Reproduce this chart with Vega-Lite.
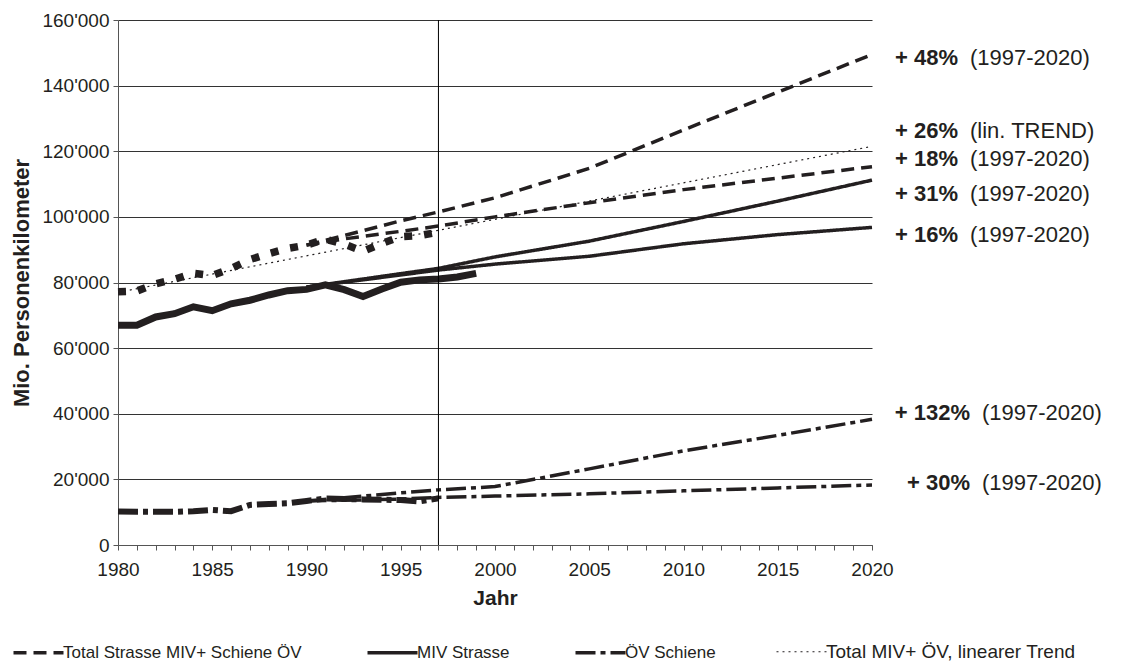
{
  "$schema": "https://vega.github.io/schema/vega-lite/v6.json",
  "width": 754,
  "height": 525,
  "autosize": {"type": "none"},
  "padding": {"left": 118, "top": 20, "right": 265, "bottom": 119},
  "background": "white",
  "config": {
    "view": {"stroke": null},
    "font": "Liberation Sans",
    "locale": {"number": {"decimal": ".", "thousands": "'", "grouping": [3], "currency": ["", ""]}},
    "axis": {"domainColor": "#555", "tickColor": "#555", "labelColor": "#231f20", "titleColor": "#231f20", "labelFont": "Liberation Sans", "titleFont": "Liberation Sans"}
  },
  "datasets": {
    "model": [
      {"year": 1990, "value": 91400, "series": "T_hi", "type": "Total Strasse MIV+ Schiene ÖV"},
      {"year": 1992, "value": 94300, "series": "T_hi", "type": "Total Strasse MIV+ Schiene ÖV"},
      {"year": 1995, "value": 98800, "series": "T_hi", "type": "Total Strasse MIV+ Schiene ÖV"},
      {"year": 1997, "value": 101500, "series": "T_hi", "type": "Total Strasse MIV+ Schiene ÖV"},
      {"year": 2000, "value": 105800, "series": "T_hi", "type": "Total Strasse MIV+ Schiene ÖV"},
      {"year": 2005, "value": 114800, "series": "T_hi", "type": "Total Strasse MIV+ Schiene ÖV"},
      {"year": 2010, "value": 126500, "series": "T_hi", "type": "Total Strasse MIV+ Schiene ÖV"},
      {"year": 2015, "value": 138000, "series": "T_hi", "type": "Total Strasse MIV+ Schiene ÖV"},
      {"year": 2020, "value": 149500, "series": "T_hi", "type": "Total Strasse MIV+ Schiene ÖV"},
      {"year": 1990, "value": 91400, "series": "T_lo", "type": "Total Strasse MIV+ Schiene ÖV"},
      {"year": 1992, "value": 93300, "series": "T_lo", "type": "Total Strasse MIV+ Schiene ÖV"},
      {"year": 1995, "value": 95600, "series": "T_lo", "type": "Total Strasse MIV+ Schiene ÖV"},
      {"year": 1997, "value": 97200, "series": "T_lo", "type": "Total Strasse MIV+ Schiene ÖV"},
      {"year": 2000, "value": 100000, "series": "T_lo", "type": "Total Strasse MIV+ Schiene ÖV"},
      {"year": 2005, "value": 104300, "series": "T_lo", "type": "Total Strasse MIV+ Schiene ÖV"},
      {"year": 2010, "value": 108300, "series": "T_lo", "type": "Total Strasse MIV+ Schiene ÖV"},
      {"year": 2015, "value": 111800, "series": "T_lo", "type": "Total Strasse MIV+ Schiene ÖV"},
      {"year": 2020, "value": 115300, "series": "T_lo", "type": "Total Strasse MIV+ Schiene ÖV"},
      {"year": 1990, "value": 78600, "series": "M_hi", "type": "MIV Strasse"},
      {"year": 1995, "value": 82700, "series": "M_hi", "type": "MIV Strasse"},
      {"year": 1997, "value": 84300, "series": "M_hi", "type": "MIV Strasse"},
      {"year": 2000, "value": 87800, "series": "M_hi", "type": "MIV Strasse"},
      {"year": 2005, "value": 92600, "series": "M_hi", "type": "MIV Strasse"},
      {"year": 2010, "value": 98600, "series": "M_hi", "type": "MIV Strasse"},
      {"year": 2015, "value": 104800, "series": "M_hi", "type": "MIV Strasse"},
      {"year": 2020, "value": 111200, "series": "M_hi", "type": "MIV Strasse"},
      {"year": 1990, "value": 78600, "series": "M_lo", "type": "MIV Strasse"},
      {"year": 1995, "value": 82300, "series": "M_lo", "type": "MIV Strasse"},
      {"year": 1997, "value": 83800, "series": "M_lo", "type": "MIV Strasse"},
      {"year": 2000, "value": 85600, "series": "M_lo", "type": "MIV Strasse"},
      {"year": 2005, "value": 88000, "series": "M_lo", "type": "MIV Strasse"},
      {"year": 2010, "value": 91800, "series": "M_lo", "type": "MIV Strasse"},
      {"year": 2015, "value": 94600, "series": "M_lo", "type": "MIV Strasse"},
      {"year": 2020, "value": 96800, "series": "M_lo", "type": "MIV Strasse"},
      {"year": 1990, "value": 13400, "series": "O_hi", "type": "ÖV Schiene"},
      {"year": 1995, "value": 15900, "series": "O_hi", "type": "ÖV Schiene"},
      {"year": 1997, "value": 16800, "series": "O_hi", "type": "ÖV Schiene"},
      {"year": 2000, "value": 17800, "series": "O_hi", "type": "ÖV Schiene"},
      {"year": 2005, "value": 23200, "series": "O_hi", "type": "ÖV Schiene"},
      {"year": 2010, "value": 28700, "series": "O_hi", "type": "ÖV Schiene"},
      {"year": 2015, "value": 33400, "series": "O_hi", "type": "ÖV Schiene"},
      {"year": 2020, "value": 38300, "series": "O_hi", "type": "ÖV Schiene"},
      {"year": 1990, "value": 13400, "series": "O_lo", "type": "ÖV Schiene"},
      {"year": 1995, "value": 14000, "series": "O_lo", "type": "ÖV Schiene"},
      {"year": 1997, "value": 14500, "series": "O_lo", "type": "ÖV Schiene"},
      {"year": 2000, "value": 14900, "series": "O_lo", "type": "ÖV Schiene"},
      {"year": 2005, "value": 15600, "series": "O_lo", "type": "ÖV Schiene"},
      {"year": 2010, "value": 16500, "series": "O_lo", "type": "ÖV Schiene"},
      {"year": 2015, "value": 17400, "series": "O_lo", "type": "ÖV Schiene"},
      {"year": 2020, "value": 18300, "series": "O_lo", "type": "ÖV Schiene"}
    ],
    "trend": [
      {"year": 1980, "value": 77000, "series": "trend", "type": "Total MIV+ ÖV, linearer Trend"},
      {"year": 2020, "value": 121500, "series": "trend", "type": "Total MIV+ ÖV, linearer Trend"}
    ],
    "hist": [
      {"year": 1980, "value": 77200, "series": "total"},
      {"year": 1981, "value": 77400, "series": "total"},
      {"year": 1982, "value": 79600, "series": "total"},
      {"year": 1983, "value": 81000, "series": "total"},
      {"year": 1984, "value": 82800, "series": "total"},
      {"year": 1985, "value": 82100, "series": "total"},
      {"year": 1986, "value": 84300, "series": "total"},
      {"year": 1987, "value": 87000, "series": "total"},
      {"year": 1988, "value": 88800, "series": "total"},
      {"year": 1989, "value": 90400, "series": "total"},
      {"year": 1990, "value": 91400, "series": "total"},
      {"year": 1991, "value": 93200, "series": "total"},
      {"year": 1992, "value": 91700, "series": "total"},
      {"year": 1993, "value": 89500, "series": "total"},
      {"year": 1994, "value": 91900, "series": "total"},
      {"year": 1995, "value": 94000, "series": "total"},
      {"year": 1996, "value": 94300, "series": "total"},
      {"year": 1997, "value": 95300, "series": "total"},
      {"year": 1980, "value": 67000, "series": "miv"},
      {"year": 1981, "value": 67000, "series": "miv"},
      {"year": 1982, "value": 69500, "series": "miv"},
      {"year": 1983, "value": 70500, "series": "miv"},
      {"year": 1984, "value": 72600, "series": "miv"},
      {"year": 1985, "value": 71400, "series": "miv"},
      {"year": 1986, "value": 73500, "series": "miv"},
      {"year": 1987, "value": 74600, "series": "miv"},
      {"year": 1988, "value": 76200, "series": "miv"},
      {"year": 1989, "value": 77500, "series": "miv"},
      {"year": 1990, "value": 77900, "series": "miv"},
      {"year": 1991, "value": 79300, "series": "miv"},
      {"year": 1992, "value": 77800, "series": "miv"},
      {"year": 1993, "value": 75700, "series": "miv"},
      {"year": 1994, "value": 78000, "series": "miv"},
      {"year": 1995, "value": 80100, "series": "miv"},
      {"year": 1996, "value": 80800, "series": "miv"},
      {"year": 1997, "value": 81100, "series": "miv"},
      {"year": 1998, "value": 81700, "series": "miv"},
      {"year": 1999, "value": 82800, "series": "miv"},
      {"year": 1980, "value": 10200, "series": "ov"},
      {"year": 1981, "value": 10100, "series": "ov"},
      {"year": 1982, "value": 10100, "series": "ov"},
      {"year": 1983, "value": 10100, "series": "ov"},
      {"year": 1984, "value": 10300, "series": "ov"},
      {"year": 1985, "value": 10700, "series": "ov"},
      {"year": 1986, "value": 10300, "series": "ov"},
      {"year": 1987, "value": 12200, "series": "ov"},
      {"year": 1988, "value": 12500, "series": "ov"},
      {"year": 1989, "value": 12700, "series": "ov"},
      {"year": 1990, "value": 13400, "series": "ov"},
      {"year": 1991, "value": 14200, "series": "ov"},
      {"year": 1992, "value": 14000, "series": "ov"},
      {"year": 1993, "value": 13900, "series": "ov"},
      {"year": 1994, "value": 13800, "series": "ov"},
      {"year": 1995, "value": 13700, "series": "ov"},
      {"year": 1996, "value": 13300, "series": "ov"},
      {"year": 1997, "value": 14200, "series": "ov"}
    ],
    "marker": [{"year": 1997, "value": 0, "value2": 160000}],
    "labels": [
      {"year": 2020, "value": 148400, "pct": "+ 48%", "period": "(1997-2020)", "grp": "a"},
      {"year": 2020, "value": 126200, "pct": "+ 26%", "period": "(lin. TREND)", "grp": "a"},
      {"year": 2020, "value": 117600, "pct": "+ 18%", "period": "(1997-2020)", "grp": "a"},
      {"year": 2020, "value": 107000, "pct": "+ 31%", "period": "(1997-2020)", "grp": "a"},
      {"year": 2020, "value": 94500, "pct": "+ 16%", "period": "(1997-2020)", "grp": "a"},
      {"year": 2020, "value": 40200, "pct": "+ 132%", "period": "(1997-2020)", "grp": "b"},
      {"year": 2020, "value": 18900, "pct": "+ 30%", "period": "(1997-2020)", "grp": "b"}
    ]
  },
  "encoding": {
    "x": {
      "field": "year", "type": "quantitative",
      "scale": {"domain": [1980, 2020], "nice": false, "zero": false},
      "axis": {
        "title": "Jahr", "titleFontSize": 21, "titleFontWeight": "bold", "titlePadding": 8,
        "values": [1980,1981,1982,1983,1984,1985,1986,1987,1988,1989,1990,1991,1992,1993,1994,1995,1996,1997,1998,1999,2000,2001,2002,2003,2004,2005,2006,2007,2008,2009,2010,2011,2012,2013,2014,2015,2016,2017,2018,2019,2020],
        "format": "d", "labelExpr": "datum.value % 5 === 0 ? datum.label : ''",
        "labelFontSize": 19, "labelPadding": 10, "labelFlush": false, "labelOverlap": false,
        "tickSize": 5, "grid": false
      }
    },
    "y": {
      "field": "value", "type": "quantitative",
      "scale": {"domain": [0, 160000], "nice": false},
      "axis": {
        "title": "Mio. Personenkilometer", "titleFontSize": 22, "titleFontWeight": "bold", "titlePadding": 8,
        "values": [0, 20000, 40000, 60000, 80000, 100000, 120000, 140000, 160000],
        "format": ",d", "labelFontSize": 19, "labelPadding": 4, "tickSize": 5,
        "grid": true, "gridColor": "#333", "gridWidth": 1
      }
    }
  },
  "layer": [
    {
      "data": {"name": "model"},
      "mark": {"type": "line", "strokeWidth": 3.5, "color": "#231f20", "strokeCap": "butt"},
      "encoding": {
        "detail": {"field": "series"},
        "strokeDash": {
          "field": "type", "type": "nominal",
          "scale": {
            "domain": ["Total Strasse MIV+ Schiene ÖV", "MIV Strasse", "ÖV Schiene", "Total MIV+ ÖV, linearer Trend"],
            "range": [[13, 7], [1, 0], [20, 5, 5, 5], [2, 4]]
          },
          "legend": {
            "orient": "none", "legendX": -88, "legendY": 623, "direction": "horizontal", "title": null,
            "symbolType": "stroke", "symbolSize": 2500, "symbolStrokeWidth": 3.5, "symbolStrokeColor": "#231f20",
            "labelFont": "Liberation Sans", "labelFontSize": 17, "labelColor": "#231f20", "labelLimit": 500,
            "labelOffset": 16, "columnPadding": 58,
            "encode": {
              "symbols": {"update": {"strokeWidth": {"signal": "datum.value === 'Total MIV+ ÖV, linearer Trend' ? 1.2 : 3.5"}}},
              "labels": {"update": {"fontSize": {"signal": "datum.value === 'Total MIV+ ÖV, linearer Trend' ? 19 : 17"}}}
            }
          }
        }
      }
    },
    {
      "data": {"name": "trend"},
      "mark": {"type": "line", "strokeWidth": 1.2, "color": "#231f20"},
      "encoding": {"strokeDash": {"field": "type", "type": "nominal"}}
    },
    {
      "data": {"name": "hist"},
      "transform": [{"filter": "datum.series === 'total'"}],
      "mark": {"type": "line", "strokeWidth": 7.5, "color": "#231f20", "strokeDash": [8, 12], "strokeCap": "butt"},
      "encoding": {}
    },
    {
      "data": {"name": "hist"},
      "transform": [{"filter": "datum.series === 'miv'"}],
      "mark": {"type": "line", "strokeWidth": 7, "color": "#231f20"},
      "encoding": {}
    },
    {
      "data": {"name": "hist"},
      "transform": [{"filter": "datum.series === 'ov'"}],
      "mark": {"type": "line", "strokeWidth": 6, "color": "#231f20", "strokeDash": [20, 5, 5, 5], "strokeCap": "butt"},
      "encoding": {}
    },
    {
      "data": {"name": "marker"},
      "mark": {"type": "rule", "color": "#000", "strokeWidth": 1},
      "encoding": {"y2": {"field": "value2"}}
    },
    {
      "data": {"name": "labels"},
      "transform": [{"filter": "datum.grp === 'a'"}],
      "mark": {"type": "text", "align": "left", "baseline": "middle", "dx": 23, "fontSize": 22, "fontWeight": "bold", "color": "#231f20"},
      "encoding": {"text": {"field": "pct"}}
    },
    {
      "data": {"name": "labels"},
      "transform": [{"filter": "datum.grp === 'a'"}],
      "mark": {"type": "text", "align": "left", "baseline": "middle", "dx": 98, "fontSize": 22, "color": "#231f20"},
      "encoding": {"text": {"field": "period"}}
    },
    {
      "data": {"name": "labels"},
      "transform": [{"filter": "datum.grp === 'b'"}],
      "mark": {"type": "text", "align": "right", "baseline": "middle", "dx": 98, "fontSize": 22, "fontWeight": "bold", "color": "#231f20"},
      "encoding": {"text": {"field": "pct"}}
    },
    {
      "data": {"name": "labels"},
      "transform": [{"filter": "datum.grp === 'b'"}],
      "mark": {"type": "text", "align": "left", "baseline": "middle", "dx": 110, "fontSize": 22, "color": "#231f20"},
      "encoding": {"text": {"field": "period"}}
    }
  ]
}
